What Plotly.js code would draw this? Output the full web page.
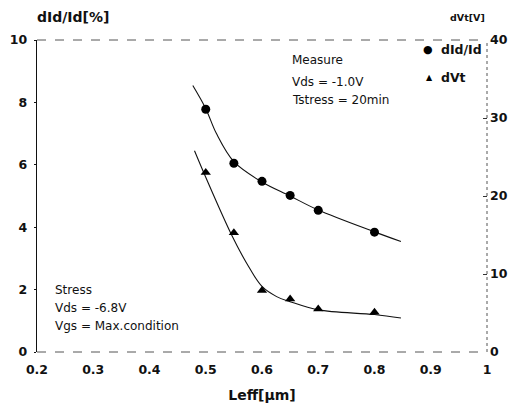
<!DOCTYPE html>
<html>
<head>
<meta charset="utf-8">
<script src="https://cdn.plot.ly/plotly-3.0.1.min.js"></script>
<style>html,body{margin:0;padding:0;background:#fff;}#chart{width:524px;height:415px;}</style>
</head>
<body>
<div id="chart"></div>
<script>
// Measured points
const leff = [0.5, 0.55, 0.6, 0.65, 0.7, 0.8];
const dIdId = [7.78, 6.05, 5.47, 5.02, 4.54, 3.84];   // [%], left axis
const dVt = [23.0, 15.3, 7.9, 6.8, 5.5, 5.1];        // [V], right axis

// Fitted curves
const fitIdX = [0.477, 0.5, 0.519, 0.55, 0.6, 0.65, 0.7, 0.8, 0.847];
const fitIdY = [8.54, 7.8, 7.0, 6.1, 5.45, 5.0, 4.55, 3.85, 3.54];
const fitVtX = [0.48, 0.5, 0.546, 0.573, 0.6, 0.626, 0.65, 0.7, 0.8, 0.847];
const fitVtY = [25.8, 22.4, 15.0, 11.35, 8.4, 7.1, 6.45, 5.4, 4.8, 4.35];

const xTicks = [0.2, 0.3, 0.4, 0.5, 0.6, 0.7, 0.8, 0.9, 1];
const xTickText = ['0.2', '0.3', '0.4', '0.5', '0.6', '0.7', '0.8', '0.9', '1'];
const yTicks = [0, 2, 4, 6, 8, 10];
const yTickText = ['0', '2', '4', '6', '8', '10'];
const y2Ticks = [0, 10, 20, 30, 40];
const y2TickText = ['0', '10', '20', '30', '40'];

const FONT = 'DejaVu Sans, Verdana, sans-serif';
const bold = a => a.map(s => '<b>' + s + '</b>');

const traces = [
  {x: fitIdX, y: fitIdY, mode: 'lines', line: {color: '#111', width: 1.1, shape: 'spline', smoothing: 1}, showlegend: false, hoverinfo: 'skip'},
  {x: fitVtX, y: fitVtY, yaxis: 'y2', mode: 'lines', line: {color: '#111', width: 1.1, shape: 'spline', smoothing: 1}, showlegend: false, hoverinfo: 'skip'},
  {x: leff, y: dIdId, name: 'dId/Id', mode: 'markers', marker: {symbol: 'circle', size: 9, color: '#000'}, showlegend: false},
  {x: leff, y: dVt, yaxis: 'y2', name: 'dVt', mode: 'markers', marker: {symbol: 'triangle-up', size: 9, color: '#000'}, showlegend: false}
];

function txt(x, y, s, opts) {
  return Object.assign({xref: 'paper', yref: 'paper', x: x, y: y, text: s, showarrow: false,
    xanchor: 'left', yanchor: 'middle', font: {family: FONT, size: 12, color: '#111'}}, opts || {});
}

const W = 450, H = 312;
function px(p) { return (p - 37) / W; }
function py(p) { return (352 - p) / H; }

const annotations = [
  txt(px(35), py(17), '<b>dId/Id[%]</b>', {font: {family: FONT, size: 14, color: '#111'}}),
  txt(1, py(17), '<b>dVt[V]</b>', {xanchor: 'right', font: {family: FONT, size: 9.5, color: '#111'}}),
  txt(px(428), py(49), '●', {xanchor: 'center', font: {family: FONT, size: 11, color: '#000'}}),
  txt(px(439), py(49), '<b>dId/Id</b>', {font: {family: FONT, size: 12.5, color: '#111'}}),
  txt(px(429), py(77), '▲', {xanchor: 'center', font: {family: FONT, size: 8, color: '#000'}}),
  txt(px(439), py(77), '<b>dVt</b>', {font: {family: FONT, size: 12.5, color: '#111'}}),
  txt(px(290), py(60), 'Measure'),
  txt(px(290), py(82), 'Vds = -1.0V'),
  txt(px(290), py(100), 'Tstress = 20min'),
  txt(px(53), py(290), 'Stress'),
  txt(px(53), py(308), 'Vds = -6.8V'),
  txt(px(53), py(326), 'Vgs = Max.condition')
];

const layout = {
  width: 524, height: 415,
  margin: {l: 37, r: 37, t: 40, b: 63, pad: 0},
  paper_bgcolor: '#fff', plot_bgcolor: '#fff',
  font: {family: FONT, color: '#111'},
  showlegend: false,
  xaxis: {
    range: [0.2, 1], tickvals: xTicks, ticktext: bold(xTickText),
    showgrid: false, zeroline: false, showline: false, ticks: '',
    ticklabelstandoff: 8,
    tickfont: {family: FONT, size: 12.5, color: '#111'},
    title: {text: '<b>Leff[μm]</b>', font: {family: FONT, size: 14, color: '#111'}, standoff: 14},
    automargin: false
  },
  yaxis: {
    range: [0, 10], tickvals: yTicks, ticktext: bold(yTickText),
    showgrid: false, zeroline: false, showline: true, linecolor: '#111', linewidth: 1.3,
    ticks: 'outside', ticklen: 2, tickcolor: '#111',
    ticklabelstandoff: 4,
    tickfont: {family: FONT, size: 12.5, color: '#111'},
    automargin: false
  },
  yaxis2: {
    range: [0, 40], tickvals: y2Ticks, ticktext: bold(y2TickText), overlaying: 'y', side: 'right',
    showgrid: false, zeroline: false, showline: false,
    ticks: 'inside', ticklen: 4, tickcolor: '#333',
    ticklabelstandoff: 2,
    tickfont: {family: FONT, size: 12.5, color: '#111'},
    automargin: false
  },
  shapes: [
    {type: 'line', xref: 'paper', yref: 'paper', x0: 0, x1: 1, y0: 1, y1: 1, line: {color: '#555', width: 1, dash: 'dash'}},
    {type: 'line', xref: 'paper', yref: 'paper', x0: 0, x1: 1, y0: 0, y1: 0, line: {color: '#555', width: 1, dash: 'dash'}},
    {type: 'line', xref: 'paper', yref: 'paper', x0: 1, x1: 1, y0: 0, y1: 1, line: {color: '#555', width: 1, dash: 'dot'}}
  ],
  annotations: annotations
};

Plotly.newPlot('chart', traces, layout, {staticPlot: true, displayModeBar: false});
</script>
</body>
</html>
